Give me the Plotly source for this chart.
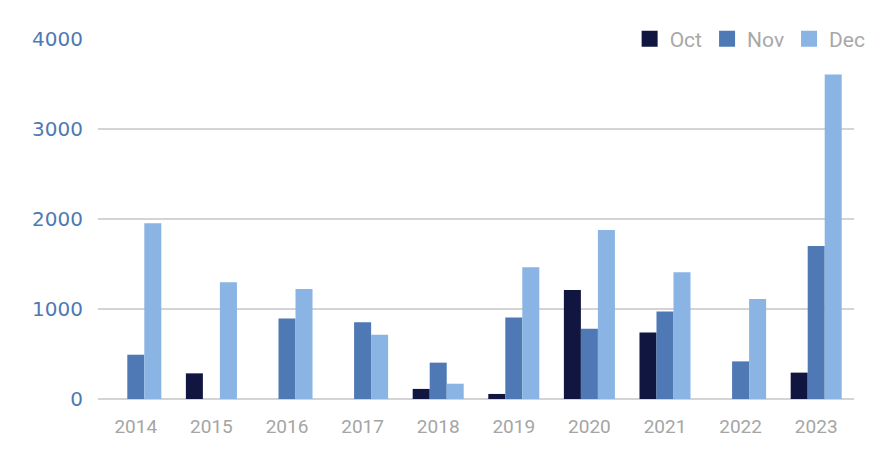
import plotly.graph_objects as go

years = ["2014", "2015", "2016", "2017", "2018", "2019", "2020", "2021", "2022", "2023"]
oct_vals = [0, 285, 0, 0, 112, 56, 1212, 740, 0, 293]
nov_vals = [492, 0, 895, 852, 404, 905, 780, 972, 418, 1700]
dec_vals = [1952, 1298, 1222, 714, 170, 1463, 1878, 1408, 1112, 3605]

series = [
    ("Oct", oct_vals, "#111640"),
    ("Nov", nov_vals, "#4e79b4"),
    ("Dec", dec_vals, "#8ab4e3"),
]

fig = go.Figure()
for name, vals, color in series:
    fig.add_trace(go.Bar(
        x=years, y=vals, name=name, legendgroup=name, showlegend=False,
        marker=dict(color=color, line=dict(width=0)),
    ))
for name, vals, color in series:
    # legend entry with a larger square swatch
    fig.add_trace(go.Scatter(
        x=[None], y=[None], mode="markers", name=name, legendgroup=name,
        marker=dict(symbol="square", size=16, color=color),
    ))

fig.update_layout(
    width=896, height=475,
    margin=dict(l=90, r=50, t=31, b=84, autoexpand=False),
    paper_bgcolor="white", plot_bgcolor="white",
    barmode="group", bargap=0.325, bargroupgap=0,
    legend=dict(
        orientation="h", x=1.022, xanchor="right", y=1.0, yanchor="middle",
        bgcolor="white", font=dict(family="Roboto", size=21, color="#a8a8a8"),
        itemwidth=30, itemsizing="trace", tracegroupgap=0,
    ),
    font=dict(family="Roboto"),
)
fig.update_xaxes(
    type="category", showgrid=False, showline=False, zeroline=False,
    tickfont=dict(family="Roboto", size=19, color="#a5a5a5"),
    ticks="", ticklabelstandoff=14,
)
fig.update_yaxes(
    range=[0, 4000], tickvals=[0, 1000, 2000, 3000, 4000],
    showgrid=True, gridcolor="#d4d4d4", gridwidth=1.5,
    zeroline=True, zerolinecolor="#d4d4d4", zerolinewidth=1.5,
    showline=False,
    tickfont=dict(family="DejaVu Sans", size=20, color="#4e79b4"),
    ticks="", ticklabelstandoff=14,
)

fig.write_html("out.html")
